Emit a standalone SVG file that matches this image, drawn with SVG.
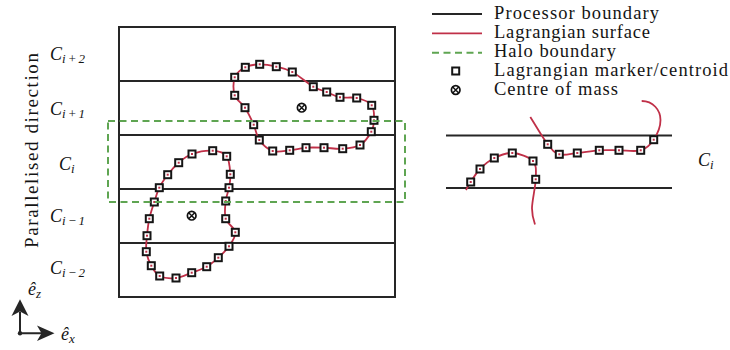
<svg xmlns="http://www.w3.org/2000/svg" xmlns:xlink="http://www.w3.org/1999/xlink" width="730" height="350" viewBox="0 0 730 350">
<style>
.blk{stroke:#262626;stroke-width:2;fill:none}
.red{stroke:#c03048;stroke-width:1.8;fill:none}
.halo{stroke:#5fa552;stroke-width:2;fill:none;stroke-dasharray:7 4.5}
.t{font-family:"Liberation Serif","Times New Roman",serif;fill:#141414}
.it{font-style:italic}
</style>
<defs>
<g id="mk"><rect x="-3.5" y="-3.5" width="7" height="7" fill="#fff" stroke="#151515" stroke-width="2"/><rect x="-1" y="-1" width="2" height="2" fill="#c03048"/></g>
<g id="com"><circle r="4.3" fill="#fff" stroke="#111" stroke-width="1.7"/><path d="M-3,-3 L3,3 M-3,3 L3,-3" stroke="#111" stroke-width="1.5"/></g>
</defs>
<rect width="730" height="350" fill="#fff"/>

<g id="processor-grid">
<rect class="blk" x="119" y="27" width="276" height="270"/>
<path class="blk" d="M119,81H395M119,135H395M119,189H395M119,243H395"/>
</g>

<g id="row-labels" class="t it" font-size="18">
<text x="50" y="59.5">C<tspan font-size="13" dy="3" textLength="23">i+2</tspan></text>
<text x="50" y="114.5">C<tspan font-size="13" dy="3" textLength="23">i+1</tspan></text>
<text x="59" y="169.5">C<tspan font-size="13" dy="3">i</tspan></text>
<text x="50" y="222">C<tspan font-size="13" dy="3" textLength="23">i−1</tspan></text>
<text x="50" y="274">C<tspan font-size="13" dy="3" textLength="23">i−2</tspan></text>
</g>

<g id="axis-label">
<text class="t" font-size="19" text-anchor="middle" textLength="195" lengthAdjust="spacing" transform="translate(37.5,150.5) rotate(-90)">Parallelised direction</text>
</g>

<g id="lower-body">
<path class="red" d="M192.0,154.0 C197.7,152.0 206.9,150.3 212.7,150.7 C218.5,151.1 223.8,152.4 226.7,156.3 C229.6,160.2 229.9,169.1 230.3,174.3 C230.7,179.5 229.8,183.3 229.0,187.7 C228.2,192.2 226.3,195.8 225.7,201.0 C225.2,206.2 224.1,213.5 225.7,218.7 C227.3,223.9 234.8,227.7 235.3,232.3 C235.9,236.9 231.8,242.1 229.0,246.3 C226.2,250.5 222.0,254.3 218.3,257.7 C214.6,261.1 211.1,264.2 206.7,266.7 C202.3,269.2 196.8,270.8 191.7,272.7 C186.6,274.6 181.3,277.5 176.0,278.0 C170.7,278.6 163.8,278.1 159.7,276.0 C155.6,274.0 153.5,269.8 151.3,265.7 C149.1,261.7 147.0,256.7 146.3,251.7 C145.6,246.7 146.5,241.2 147.0,235.7 C147.5,230.2 148.1,224.3 149.3,218.7 C150.5,213.1 152.6,207.2 154.3,202.0 C156.0,196.8 157.1,192.3 159.3,187.7 C161.5,183.1 164.5,178.9 167.7,174.7 C170.9,170.5 174.6,166.2 178.7,162.7 C182.8,159.3 186.3,156.0 192.0,154.0 Z"/>
<use href="#mk" x="192" y="154"/><use href="#mk" x="212.7" y="150.7"/><use href="#mk" x="226.7" y="156.3"/><use href="#mk" x="230.3" y="174.3"/><use href="#mk" x="229" y="187.7"/><use href="#mk" x="225.7" y="201"/><use href="#mk" x="225.7" y="218.7"/><use href="#mk" x="235.3" y="232.3"/><use href="#mk" x="229" y="246.3"/><use href="#mk" x="218.3" y="257.7"/><use href="#mk" x="206.7" y="266.7"/><use href="#mk" x="191.7" y="272.7"/><use href="#mk" x="176" y="278"/><use href="#mk" x="159.7" y="276"/><use href="#mk" x="151.3" y="265.7"/><use href="#mk" x="146.3" y="251.7"/><use href="#mk" x="147" y="235.7"/><use href="#mk" x="149.3" y="218.7"/><use href="#mk" x="154.3" y="202"/><use href="#mk" x="159.3" y="187.7"/><use href="#mk" x="167.7" y="174.7"/><use href="#mk" x="178.7" y="162.7"/>
<use href="#com" x="191.7" y="215.7"/>
</g>

<g id="upper-body">
<path class="red" d="M234.7,77.3 C236.5,72.6 241.1,69.5 245.3,67.3 C249.5,65.1 254.5,64.4 259.7,64.3 C264.9,64.2 270.9,65.4 276.3,66.7 C281.7,68.0 286.1,68.7 292.3,72.0 C298.5,75.3 307.6,83.4 313.3,86.7 C319.0,90.0 322.3,90.2 326.7,92.0 C331.2,93.8 335.0,96.3 340.0,97.3 C345.0,98.3 351.4,96.7 356.7,98.0 C362.0,99.3 368.8,101.6 371.7,105.3 C374.6,109.0 374.1,115.9 374.0,120.3 C373.9,124.7 373.6,127.6 371.3,131.7 C369.0,135.8 364.8,142.2 360.0,145.0 C355.2,147.8 348.7,148.3 342.7,148.7 C336.7,149.2 330.1,147.9 324.0,147.7 C317.9,147.5 311.7,147.3 306.0,147.7 C300.3,148.1 295.3,149.8 289.7,150.3 C284.2,150.9 277.8,152.7 272.7,151.0 C267.6,149.3 262.5,144.4 259.3,140.0 C256.1,135.6 256.1,130.1 253.7,124.7 C251.3,119.3 248.2,112.6 245.0,107.7 C241.8,102.8 236.4,100.4 234.7,95.3 C233.0,90.2 233.0,82.0 234.7,77.3 Z"/>
<use href="#mk" x="234.7" y="77.3"/><use href="#mk" x="245.3" y="67.3"/><use href="#mk" x="259.7" y="64.3"/><use href="#mk" x="276.3" y="66.7"/><use href="#mk" x="292.3" y="72"/><use href="#mk" x="313.3" y="86.7"/><use href="#mk" x="326.7" y="92"/><use href="#mk" x="340" y="97.3"/><use href="#mk" x="356.7" y="98"/><use href="#mk" x="371.7" y="105.3"/><use href="#mk" x="374" y="120.3"/><use href="#mk" x="371.3" y="131.7"/><use href="#mk" x="360" y="145"/><use href="#mk" x="342.7" y="148.7"/><use href="#mk" x="324" y="147.7"/><use href="#mk" x="306" y="147.7"/><use href="#mk" x="289.7" y="150.3"/><use href="#mk" x="272.7" y="151"/><use href="#mk" x="259.3" y="140"/><use href="#mk" x="253.7" y="124.7"/><use href="#mk" x="245" y="107.7"/><use href="#mk" x="234.7" y="95.3"/>
<use href="#com" x="301.7" y="107.7"/>
</g>

<g id="halo-boundary">
<rect class="halo" x="108" y="121" width="297" height="81"/>
</g>

<g id="detail-panel">
<path class="blk" d="M446,135.5H672M446,188H672"/>
<path class="red" d="M466,190 C467.6,187.3 468.4,185.5 470.7,182 C473.0,178.5 476.1,173 480,169 C483.9,165 488.9,160.7 494.3,158 C499.7,155.3 505.9,152.5 512.3,153 C518.8,153.5 529.1,156.6 533,161 C536.9,165.4 535.9,171.5 535.7,179.3 C535.5,187.1 532.1,200.5 532,208 C531.9,215.5 534,221.7 535,224.5"/>
<path class="red" d="M530.3,117 C536.1,126.1 542.9,138.1 547.7,144.3 C552.5,150.5 554.4,152.9 559.3,154.3 C564.2,155.8 570.6,153.7 577.3,153 C584,152.3 592.4,150.8 599.3,150.3 C606.3,149.9 612.1,150.3 619,150.3 C625.9,150.3 634.9,152.1 640.7,150.3 C646.5,148.5 650.4,144.8 653.7,139.7 C657,134.7 660.5,127 660.5,120 C660.5,110 653,101 641.7,101"/>
<use href="#mk" x="470.7" y="182"/><use href="#mk" x="480" y="169"/><use href="#mk" x="494.3" y="158"/><use href="#mk" x="512.3" y="153"/><use href="#mk" x="533" y="161"/><use href="#mk" x="535.7" y="179.3"/>
<use href="#mk" x="547.7" y="144.3"/><use href="#mk" x="559.3" y="154.3"/><use href="#mk" x="577.3" y="153"/><use href="#mk" x="599.3" y="150.3"/><use href="#mk" x="619" y="150.3"/><use href="#mk" x="640.7" y="150.3"/><use href="#mk" x="653.7" y="139.7"/>
<text class="t it" font-size="18" x="698" y="166">C<tspan font-size="13" dy="3">i</tspan></text>
</g>

<g id="legend">
<path class="blk" d="M432,14H482"/>
<path class="red" d="M432,33.3H482" stroke-width="2"/>
<path class="halo" d="M432,52.7H482" stroke-dasharray="7 5"/>
<rect x="452.2" y="67.5" width="7" height="7" fill="#fff" stroke="#151515" stroke-width="2"/>
<use href="#com" x="455.7" y="90"/>
<g class="t" font-size="18.5">
<text x="494" y="19" textLength="165" lengthAdjust="spacing">Processor boundary</text>
<text x="494" y="38" textLength="156" lengthAdjust="spacing">Lagrangian surface</text>
<text x="494" y="57" textLength="122" lengthAdjust="spacing">Halo boundary</text>
<text x="494" y="76" textLength="234" lengthAdjust="spacing">Lagrangian marker/centroid</text>
<text x="494" y="95" textLength="124" lengthAdjust="spacing">Centre of mass</text>
</g>
</g>

<g id="axes">
<path d="M20,333.3V312 M20,333.3H42" stroke="#262626" stroke-width="2" fill="none"/>
<circle cx="20" cy="333.3" r="2.2" fill="#262626"/>
<path d="M20,299.3 L28.5,316 L20,311.5 L11.5,316 Z" fill="#262626"/>
<path d="M54.5,333.3 L37,325.5 L41.5,333.3 L37,341.1 Z" fill="#262626"/>
<text class="t it" font-size="18" x="28" y="295">ê<tspan font-size="13" dy="3">z</tspan></text>
<text class="t it" font-size="18" x="61" y="340">ê<tspan font-size="13" dy="3">x</tspan></text>
</g>
</svg>
